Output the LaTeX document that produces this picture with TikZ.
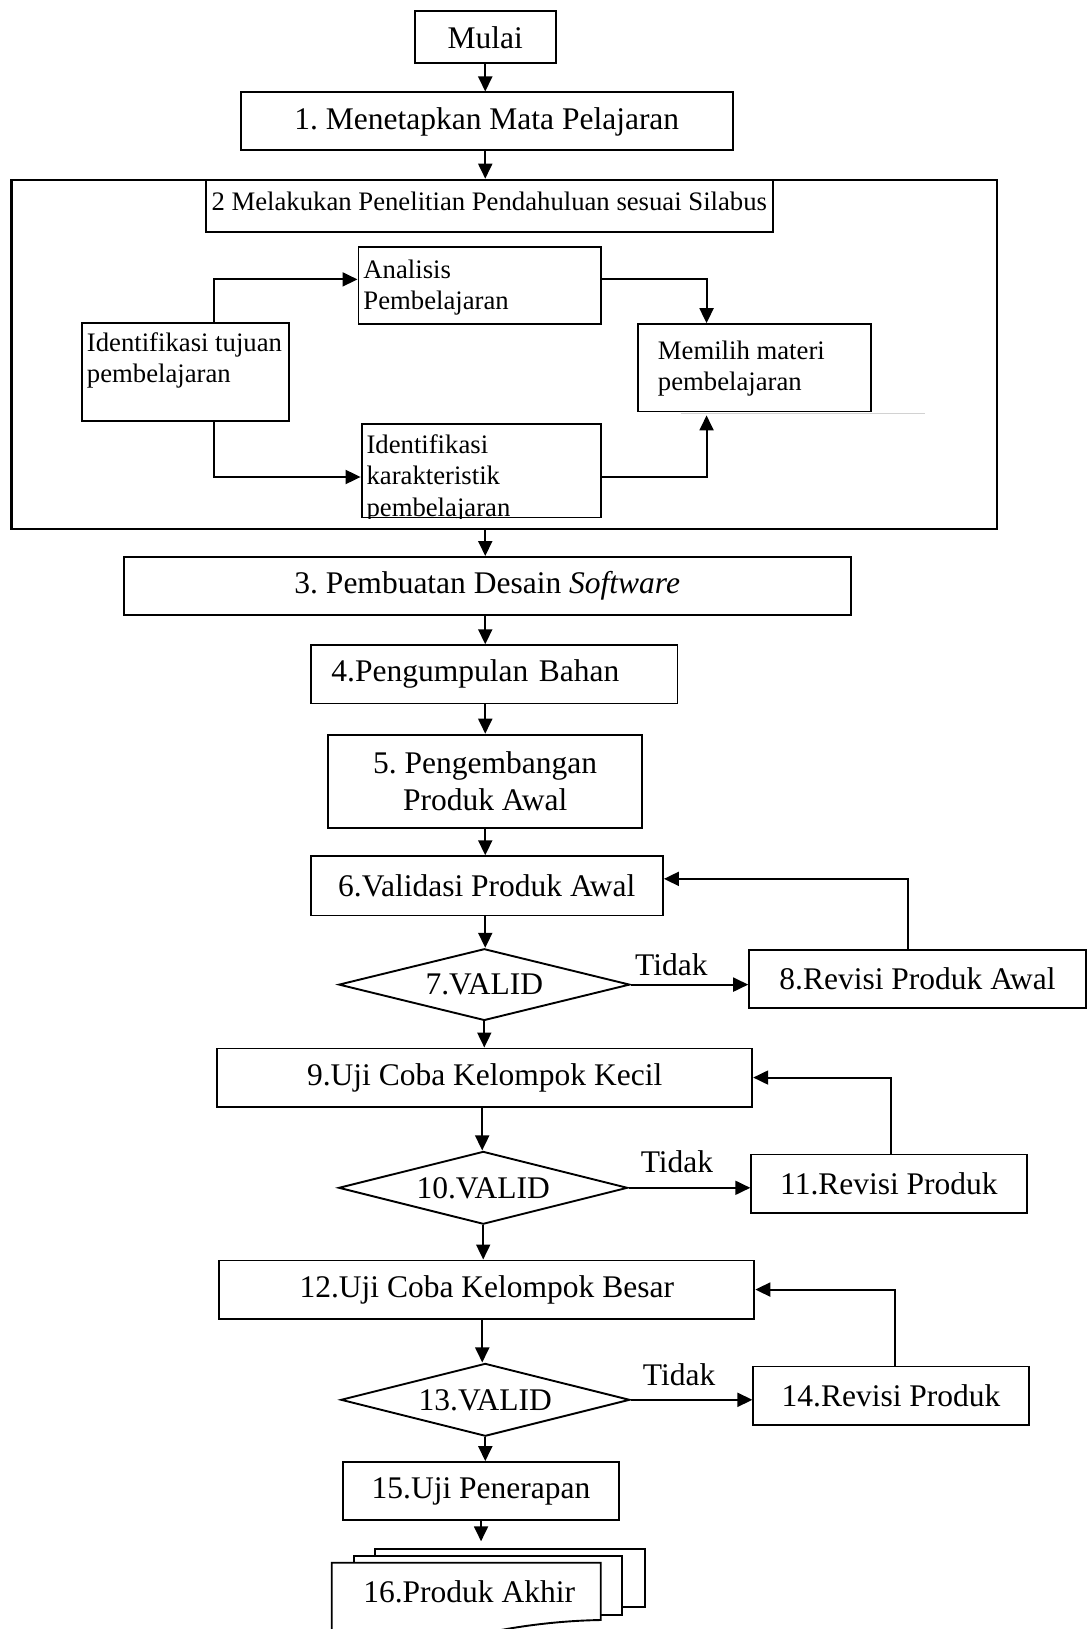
\documentclass[tikz,border=0pt]{standalone}
\usepackage{fontspec}
\setmainfont{Liberation Serif}
\usetikzlibrary{arrows.meta,shapes.geometric}
\newcommand\bigtext{\fontsize{31.5}{36.4}\selectfont}
\newcommand\smalltext{\fontsize{26.7}{31.2}\selectfont}
\frenchspacing

\begin{document}
\begin{tikzpicture}[x=1pt,y=-1pt,
  line width=1.9pt,
  box/.style={draw, rectangle, inner sep=0pt, anchor=north west, font=\bigtext, align=center},
  subbox/.style={draw, rectangle, inner sep=0pt, anchor=north west},
  subtext/.style={font=\smalltext, align=left, anchor=north west, inner sep=0pt},
  decision/.style={draw, diamond, shape aspect=4.06, inner sep=0pt, font=\bigtext},
  arr/.style={-{Triangle[length=15pt,width=14pt]}},
  tag/.style={font=\bigtext, inner sep=0pt}]
\useasboundingbox (0,0) rectangle (1087,1629);
\fill[white] (0,0) rectangle (1087,1629);

% main column
\node[box, minimum width=141.4pt, minimum height=52pt] (mulai) at (413.6,10.4) {Mulai};
\node[box, minimum width=491.6pt, minimum height=58pt] (b1) at (240,91.5) {1. Menetapkan Mata Pelajaran};

% stage 2 with its sub-steps
\node[draw, line width=2.2pt, rectangle, inner sep=0pt, anchor=north west,
      minimum width=985.2pt, minimum height=349.3pt] (stage2) at (10.4,178.7) {};
\node[subbox, minimum width=567.3pt, minimum height=52pt] (title2) at (204.7,178.7) {};
\node[font=\smalltext, inner sep=0pt, anchor=north] (title2T) at ([yshift=-12pt]title2.north)
  {2 Melakukan Penelitian Pendahuluan sesuai Silabus};

\node[subbox, minimum width=242.1pt, minimum height=76.9pt] (ana) at (357.5,246.3) {};
\node[subtext] (anaT) at ([shift={(5pt,-13pt)}]ana.north west) {Analisis\\Pembelajaran};

\node[subbox, minimum width=206.9pt, minimum height=97.8pt] (tuj) at (81,322) {};
\node[subtext] (tujT) at ([shift={(5pt,-10pt)}]tuj.north west) {Identifikasi tujuan\\pembelajaran};

\node[subbox, minimum width=232.8pt, minimum height=87.3pt] (mem) at (637,323.2) {};
\node[subtext] (memT) at ([shift={(20pt,-17pt)}]mem.north west) {Memilih materi\\pembelajaran};

\node[subbox, minimum width=239pt, minimum height=93.5pt] (kar) at (360.6,423) {};
\begin{scope}
  \clip (kar.south west) rectangle (kar.north east);
  \node[subtext] (karT) at ([shift={(5pt,-11pt)}]kar.north west) {Identifikasi\\karakteristik\\pembelajaran};
\end{scope}

\draw[gray!35, line width=1pt] (680.7,413.6) -- (925,413.6);

\draw[arr] ([xshift=28.5pt]tuj.north) |- ([yshift=6.3pt]ana.west);
\draw[arr] ([xshift=28.5pt]tuj.south) |- ([yshift=-6.3pt]kar.west);
\draw[arr] ([yshift=6.3pt]ana.east) -| ([xshift=-47.8pt]mem.north);
\draw[arr] ([yshift=-6.3pt]kar.east) -| ([xshift=-47.8pt, yshift=-3pt]mem.south);

% remaining steps
\node[box, minimum width=727.4pt, minimum height=58pt] (b3) at (122.6,556) {3. Pembuatan Desain \textit{Software}};
\node[box, minimum width=366.8pt, minimum height=58.2pt, text width=325.2pt, inner xsep=20.8pt, align=left] (b4) at (309.7,644.3) {4.Pengumpulan Bahan};
\node[box, minimum width=313.9pt, minimum height=93.5pt] (b5) at (327.3,733.7) {5. Pengembangan\\Produk Awal};
\node[box, minimum width=352.3pt, minimum height=59.2pt] (b6) at (309.7,855.3) {6.Validasi Produk Awal};
\node[decision, minimum width=291pt, minimum height=71.7pt] (d7) at (484.3,984.6) {\raisebox{-3pt}{7.VALID}};
\node[box, minimum width=336.8pt, minimum height=58.2pt] (b8) at (748.2,948.8) {8.Revisi Produk Awal};
\node[box, minimum width=535.1pt, minimum height=58.2pt] (b9) at (216.2,1047.5) {9.Uji Coba Kelompok Kecil};
\node[decision, minimum width=288.9pt, minimum height=72.8pt] (d10) at (483.2,1187.8) {\raisebox{-3pt}{10.VALID}};
\node[box, minimum width=275.4pt, minimum height=58.2pt] (b11) at (750.3,1153.5) {11.Revisi Produk};
\node[box, minimum width=535.2pt, minimum height=58.2pt] (b12) at (218.2,1259.5) {12.Uji Coba Kelompok Besar};
\node[decision, minimum width=288.9pt, minimum height=72.8pt] (d13) at (485.3,1399.8) {\raisebox{-3pt}{13.VALID}};
\node[box, minimum width=275.4pt, minimum height=58.2pt] (b14) at (752.4,1365.5) {14.Revisi Produk};
\node[box, minimum width=276.4pt, minimum height=58.2pt] (b15) at (341.9,1461.1) {15.Uji Penerapan};

% final product: stacked documents
\begin{scope}
  \clip (0,0) rectangle (1087,1629);
  \node[subbox, fill=white, minimum width=270pt, minimum height=57.7pt] (p16c) at (374,1548.3) {};
  \node[subbox, fill=white, minimum width=267.4pt, minimum height=58.7pt] (p16b) at (353.3,1555.3) {};
  \draw[fill=white] (331.7,1670) -- (331.7,1562.7) -- (600.7,1562.7) -- (600.7,1620)
    .. controls (540,1621) and (480,1632) .. (440,1645)
    .. controls (400,1658) and (370,1668) .. (331.7,1670) -- cycle;
\end{scope}
\node[tag] (p16) at (469.2,1591.5) {16.Produk Akhir};

% main flow arrows
\draw[arr] (mulai.south) -- (mulai.south |- b1.north);
\draw[arr] (b1.south -| mulai) -- (stage2.north -| mulai);
\draw[arr] (stage2.south -| mulai) -- (b3.north -| mulai);
\draw[arr] (b3.south -| mulai) -- (b4.north -| mulai);
\draw[arr] (b4.south -| mulai) -- (b5.north -| mulai);
\draw[arr] (b5.south -| mulai) -- (b6.north -| mulai);
\draw[arr] (b6.south -| mulai) -- (d7.north -| mulai);
\draw[arr] (d7.south) -- (d7.south |- b9.north);
\draw[arr] ([xshift=-2.5pt]b9.south) -- ([xshift=-2.5pt]b9.south |- d10.north);
\draw[arr] (d10.south) -- (d10.south |- b12.north);
\draw[arr] ([xshift=-4.5pt]b12.south) -- ([xshift=-4.5pt]b12.south |- d13.north);
\draw[arr] (d13.south) -- (d13.south |- b15.north);
\draw[arr, shorten >=7pt] (b15.south) -- (b15.south |- p16c.north);

% rejection branches and loops back
\draw[arr] (d7.east) -- (d7.east -| b8.west);
\node[tag] (t7) at (671.3,964.4) {Tidak};
\draw[arr] ([xshift=-10pt]b8.north) |- ([yshift=7pt]b6.east);

\draw[arr] (d10.east) -- (d10.east -| b11.west);
\node[tag] (t10) at (677,1161.3) {Tidak};
\draw[arr] ([xshift=1.6pt]b11.north) |- (b9.east);

\draw[arr] (d13.east) -- (d13.east -| b14.west);
\node[tag] (t13) at (679.1,1374.3) {Tidak};
\draw[arr] ([xshift=3.6pt]b14.north) |- (b12.east);
\end{tikzpicture}
\end{document}
